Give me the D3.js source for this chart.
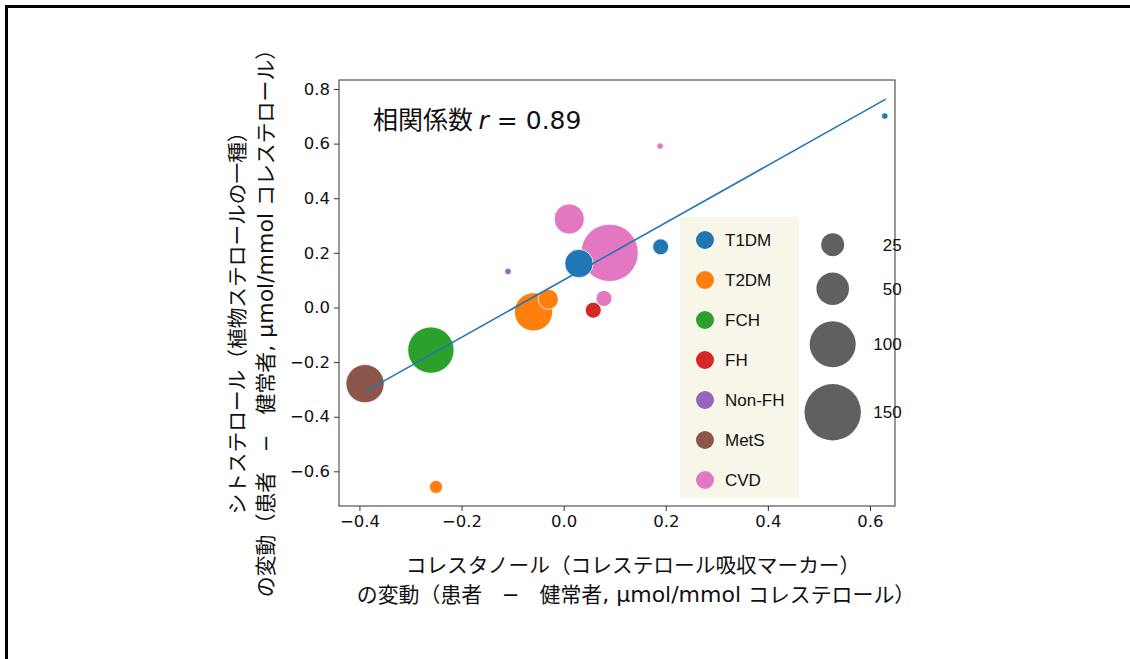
<!DOCTYPE html>
<html>
<head>
<meta charset="utf-8">
<script src="https://cdn.jsdelivr.net/npm/d3@7"></script>
<style>
  body { margin: 0; background: #fff; }
  svg { display: block; }
  text { font-family: "Liberation Sans", Arial, sans-serif; fill: #111; white-space: pre; }
  .jp { font-family: "Noto Sans CJK JP", "Liberation Sans", sans-serif; }
  .lat { font-family: "DejaVu Sans", sans-serif; }
</style>
</head>
<body>
<div class="js-chart"></div>
<script>
// groups and colours
var groups = ['T1DM', 'T2DM', 'FCH', 'FH', 'Non-FH', 'MetS', 'CVD'];
var groupColors = ['#1f77b4', '#ff7f0e', '#2ca02c', '#d62728', '#9467bd', '#8c564b', '#e377c2'];

// one entry per study
var pointGroup = ['T1DM', 'T1DM', 'T1DM', 'T2DM', 'T2DM', 'T2DM', 'FCH', 'FH', 'Non-FH', 'MetS', 'CVD', 'CVD', 'CVD', 'CVD'];
var cholestanolChange = [0.030, 0.190, 0.629, -0.059, -0.030, -0.250, -0.260, 0.058, -0.109, -0.389, 0.011, 0.090, 0.079, 0.189];
var sitosterolChange  = [0.161, 0.222, 0.701, -0.016, 0.030, -0.657, -0.156, -0.010, 0.132, -0.279, 0.324, 0.200, 0.033, 0.591];
var patients = [38, 12, 2, 69, 19, 8, 101, 12, 2, 69, 43, 155, 12, 2];

// fitted line end points
var fitX = [-0.390, 0.631];
var fitY = [-0.309, 0.763];

var sizeLegend = [25, 50, 100, 150];
var xTicks = [-0.4, -0.2, 0.0, 0.2, 0.4, 0.6];
var yTicks = [-0.6, -0.4, -0.2, 0.0, 0.2, 0.4, 0.6, 0.8];

var W = 1130, H = 659;
var mLeft = 339, mRight = 895, mTop = 80, mBottom = 506;

var svg = d3.select('.js-chart')
    .append('svg')
    .attr('width', W)
    .attr('height', H);

// outer frame (top and left only)
svg.append('path')
    .attr('d', 'M6.5,' + H + 'V6.5H' + W)
    .attr('fill', 'none')
    .attr('stroke', '#000')
    .attr('stroke-width', 3);

var x = d3.scaleLinear().domain([-0.44, 0.649]).range([mLeft, mRight]);
var y = d3.scaleLinear().domain([-0.727, 0.833]).range([mBottom, mTop]);
var r = d3.scaleSqrt().domain([0, 150]).range([0, 28.2]);
var color = d3.scaleOrdinal().domain(groups).range(groupColors);

var fmt = d3.format('.1f');

var gx = svg.append('g')
    .attr('transform', 'translate(0,' + mBottom + ')')
    .call(d3.axisBottom(x).tickValues(xTicks).tickFormat(fmt).tickSize(5).tickPadding(4));
var gy = svg.append('g')
    .attr('transform', 'translate(' + mLeft + ',0)')
    .call(d3.axisLeft(y).tickValues(yTicks).tickFormat(fmt).tickSize(5).tickPadding(4));

[gx, gy].forEach(function(g) {
    g.select('.domain').remove();
    g.selectAll('line').attr('stroke', '#333');
    g.selectAll('text').style('font-size', '16.5px').style('font-family', '"DejaVu Sans", sans-serif').attr('fill', '#111');
});

svg.append('rect')
    .attr('x', mLeft).attr('y', mTop)
    .attr('width', mRight - mLeft).attr('height', mBottom - mTop)
    .attr('fill', 'none')
    .attr('stroke', '#333')
    .attr('stroke-width', 1);

// points, biggest first so small ones sit on top
var idx = d3.range(patients.length).sort(function(a, b) { return patients[b] - patients[a]; });

svg.append('g')
    .selectAll('circle')
    .data(idx)
    .enter()
    .append('circle')
        .attr('cx', function(i) { return x(cholestanolChange[i]); })
        .attr('cy', function(i) { return y(sitosterolChange[i]); })
        .attr('r', function(i) { return r(patients[i]); })
        .attr('fill', function(i) { return color(pointGroup[i]); })
        .attr('stroke', '#fff')
        .attr('stroke-width', 0.8);

svg.append('line')
    .attr('x1', x(fitX[0])).attr('y1', y(fitY[0]))
    .attr('x2', x(fitX[1])).attr('y2', y(fitY[1]))
    .attr('stroke', '#1f77b4')
    .attr('stroke-width', 1.6);

// correlation note
var note = svg.append('text')
    .attr('x', 373).attr('y', 129)
    .style('font-size', '25px');
note.append('tspan').attr('class', 'jp').text('相関係数 ');
note.append('tspan').attr('class', 'lat').style('font-style', 'italic').text('r');
note.append('tspan').attr('class', 'lat').text(' = 0.89');

// group legend
svg.append('rect')
    .attr('x', 680).attr('y', 217)
    .attr('width', 119).attr('height', 281)
    .attr('fill', '#f8f5e9');

var leg = svg.append('g')
    .selectAll('g')
    .data(groups)
    .enter()
    .append('g')
        .attr('transform', function(d, i) { return 'translate(705,' + (240 + i * 40) + ')'; });
leg.append('circle').attr('r', 9).attr('fill', function(d) { return color(d); });
leg.append('text')
    .attr('x', 20).attr('y', 6)
    .style('font-size', '17px')
    .text(function(d) { return d; });

// size legend
var sizeY = [244.7, 288.7, 344.3, 412.3];
var sl = svg.append('g')
    .selectAll('g')
    .data(sizeLegend)
    .enter()
    .append('g')
        .attr('transform', function(d, i) { return 'translate(832.7,' + sizeY[i] + ')'; });
sl.append('circle').attr('r', function(d) { return r(d); }).attr('fill', '#606060');
sl.append('text')
    .attr('x', 69).attr('y', 6)
    .attr('text-anchor', 'end')
    .style('font-size', '17px')
    .text(function(d) { return d; });

// axis titles
function changeLine(sel) {
    sel.append('tspan').attr('class', 'jp').text('の変動（患者');
    sel.append('tspan').attr('class', 'lat').text('   −   ');
    sel.append('tspan').attr('class', 'jp').text('健常者');
    sel.append('tspan').attr('class', 'lat').style('font-size', '22px').text(', μmol/mmol ');
    sel.append('tspan').attr('class', 'jp').text('コレステロール）');
}

svg.append('text')
    .attr('class', 'jp')
    .attr('text-anchor', 'middle')
    .attr('x', 633).attr('y', 573)
    .style('font-size', '20.7px')
    .text('コレスタノール（コレステロール吸収マーカー）');
svg.append('text')
    .attr('text-anchor', 'middle')
    .attr('x', 636).attr('y', 602)
    .style('font-size', '20.9px')
    .call(changeLine);

var yg = svg.append('g').attr('transform', 'translate(0,318) rotate(-90)');
yg.append('text')
    .attr('class', 'jp')
    .attr('text-anchor', 'middle')
    .attr('x', 0).attr('y', 245)
    .style('font-size', '20.7px')
    .text('シトステロール（植物ステロールの一種）');
yg.append('text')
    .attr('text-anchor', 'middle')
    .attr('x', 0).attr('y', 273)
    .style('font-size', '20.9px')
    .call(changeLine);
</script>
</body>
</html>
